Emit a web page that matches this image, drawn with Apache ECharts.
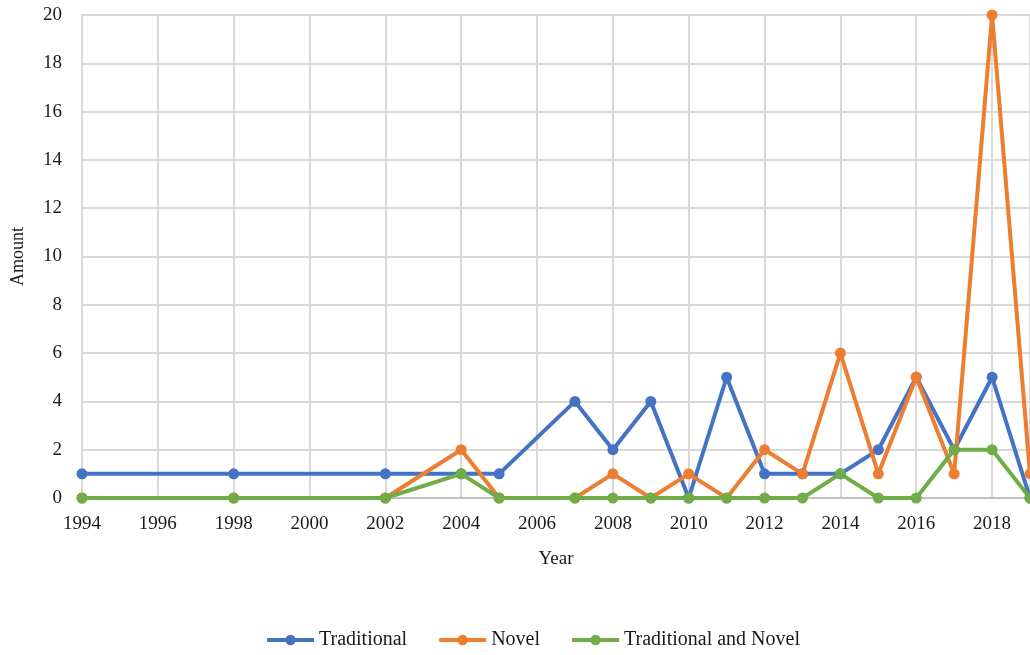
<!DOCTYPE html>
<html>
<head>
<meta charset="utf-8">
<script src="https://cdn.jsdelivr.net/npm/echarts@6/dist/echarts.min.js"></script>
<style>html,body{margin:0;padding:0;background:#fff;}#c{width:1030px;height:655px;}</style>
</head>
<body>
<div id="c"></div>
<script>
const years = [1994, 1998, 2002, 2004, 2005, 2007, 2008, 2009, 2010, 2011, 2012, 2013, 2014, 2015, 2016, 2017, 2018, 2019];
const traditional = [1, 1, 1, 1, 1, 4, 2, 4, 0, 5, 1, 1, 1, 2, 5, 2, 5, 0];
const novel = [0, 0, 0, 2, 0, 0, 1, 0, 1, 0, 2, 1, 6, 1, 5, 1, 20, 1];
const tradAndNovel = [0, 0, 0, 1, 0, 0, 0, 0, 0, 0, 0, 0, 1, 0, 0, 2, 2, 0];
const seriesNames = ['Traditional', 'Novel', 'Traditional and Novel'];
const colors = ['#4472C4', '#ED7D31', '#70AD47'];

const font = 'Liberation Serif';
const pair = arr => years.map((y, i) => [y, arr[i]]);
const mk = (name, arr, color) => ({
  name, type: 'line', data: pair(arr),
  symbol: 'circle', symbolSize: 11,
  lineStyle: { width: 4, color },
  itemStyle: { color },
  clip: false
});

const chart = echarts.init(document.getElementById('c'));
chart.setOption({
  animation: false,
  backgroundColor: '#fff',
  grid: { left: 82, right: -4, top: 15, bottom: 157 },
  xAxis: {
    type: 'value', min: 1994, max: 2019, interval: 2,
    name: 'Year', nameLocation: 'middle', nameGap: 52,
    nameTextStyle: { fontFamily: font, fontSize: 19, color: '#1a1a1a' },
    axisLine: { show: true, lineStyle: { color: '#bfbfbf', width: 2 } },
    axisTick: { show: false },
    axisLabel: { showMaxLabel: false, fontFamily: font, fontSize: 19, color: '#1a1a1a', margin: 17,
      formatter: v => String(v) },
    splitLine: { show: true, lineStyle: { color: '#d9d9d9', width: 2 } }
  },
  yAxis: {
    type: 'value', min: 0, max: 20, interval: 2,
    name: 'Amount', nameLocation: 'middle', nameGap: 55, nameRotate: 90,
    nameTextStyle: { fontFamily: font, fontSize: 18, color: '#1a1a1a' },
    axisLine: { show: true, lineStyle: { color: '#d9d9d9', width: 2 } },
    axisTick: { show: false },
    axisLabel: { fontFamily: font, fontSize: 19, color: '#1a1a1a', margin: 20 },
    splitLine: { show: true, lineStyle: { color: '#d9d9d9', width: 2 } }
  },
  legend: {
    bottom: 0, left: 260,
    itemWidth: 47, itemHeight: 13, itemGap: 30,
    lineStyle: { width: 4 },
    textStyle: { fontFamily: font, fontSize: 20, color: '#1a1a1a' },
    data: seriesNames
  },
  series: [
    mk(seriesNames[0], traditional, colors[0]),
    mk(seriesNames[1], novel, colors[1]),
    mk(seriesNames[2], tradAndNovel, colors[2])
  ]
});
</script>
</body>
</html>
